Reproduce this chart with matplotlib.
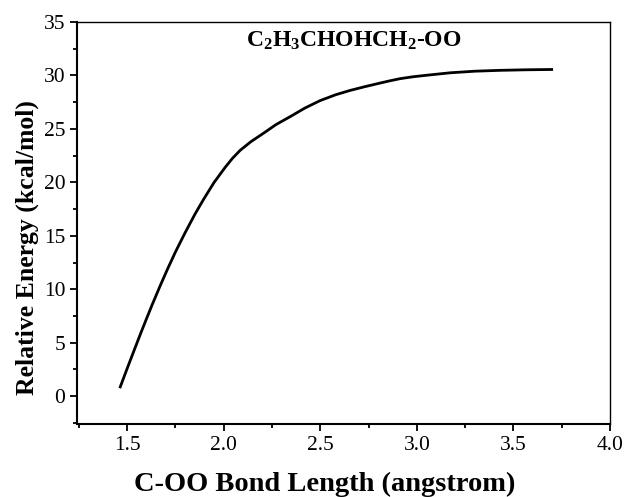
import numpy as np
import matplotlib
matplotlib.use("Agg")
import matplotlib.pyplot as plt
from matplotlib.ticker import MultipleLocator

plt.rcParams["font.family"] = "Liberation Serif"
plt.rcParams["mathtext.default"] = "regular"

# bond length (angstrom) vs relative energy (kcal/mol)
bond_length = [1.464, 1.50, 1.535, 1.567, 1.60, 1.628, 1.67, 1.709, 1.75, 1.80,
               1.85, 1.895, 1.95, 2.007, 2.045, 2.085, 2.14, 2.206, 2.27,
               2.344, 2.42, 2.499, 2.58, 2.654, 2.73, 2.80, 2.86, 2.913, 2.98,
               3.05, 3.172, 3.30, 3.43, 3.56, 3.698]
energy = [0.87, 2.6, 4.25, 5.75, 7.25, 8.5, 10.3, 11.9, 13.5, 15.3,
          17.0, 18.4, 20.0, 21.4, 22.25, 23.0, 23.8, 24.6, 25.4,
          26.15, 26.95, 27.65, 28.2, 28.6, 28.95, 29.25, 29.5, 29.7, 29.88,
          30.02, 30.25, 30.4, 30.48, 30.53, 30.56]

title = r"C$_2$H$_3$CHOHCH$_2$-OO"

fig = plt.figure(figsize=(6.27, 4.97), dpi=100)
ax = fig.add_axes([0.1228, 0.1469, 0.8501, 0.8088])

ax.plot(bond_length, energy, color="black", linewidth=2.0)

ax.set_xlim(1.24, 4.0)
ax.set_ylim(-2.6, 35)
ax.xaxis.set_major_locator(MultipleLocator(0.5))
ax.xaxis.set_minor_locator(MultipleLocator(0.25))
ax.yaxis.set_major_locator(MultipleLocator(5))
ax.yaxis.set_minor_locator(MultipleLocator(2.5))
ax.xaxis.set_major_formatter(plt.FormatStrFormatter("%.1f"))

ax.tick_params(which="both", direction="out", top=False, right=False,
               labelsize=15.5, width=1.3)
ax.tick_params(which="major", length=5)
ax.tick_params(which="minor", length=3)
for side in ["left", "bottom"]:
    ax.spines[side].set_linewidth(1.5)
for side in ["top", "right"]:
    ax.spines[side].set_linewidth(1.0)

ax.set_xlabel("C-OO Bond Length (angstrom)", fontsize=20.5, fontweight="bold")
ax.set_ylabel("Relative Energy (kcal/mol)", fontsize=18.5, fontweight="bold")
ax.xaxis.set_label_coords(0.465, -0.12)
ax.yaxis.set_label_coords(-0.072, 0.44)
ax.text(0.52, 0.952, title, transform=ax.transAxes, ha="center", va="center",
        fontsize=17, fontweight="bold")

fig.savefig("out.png", dpi=100)
